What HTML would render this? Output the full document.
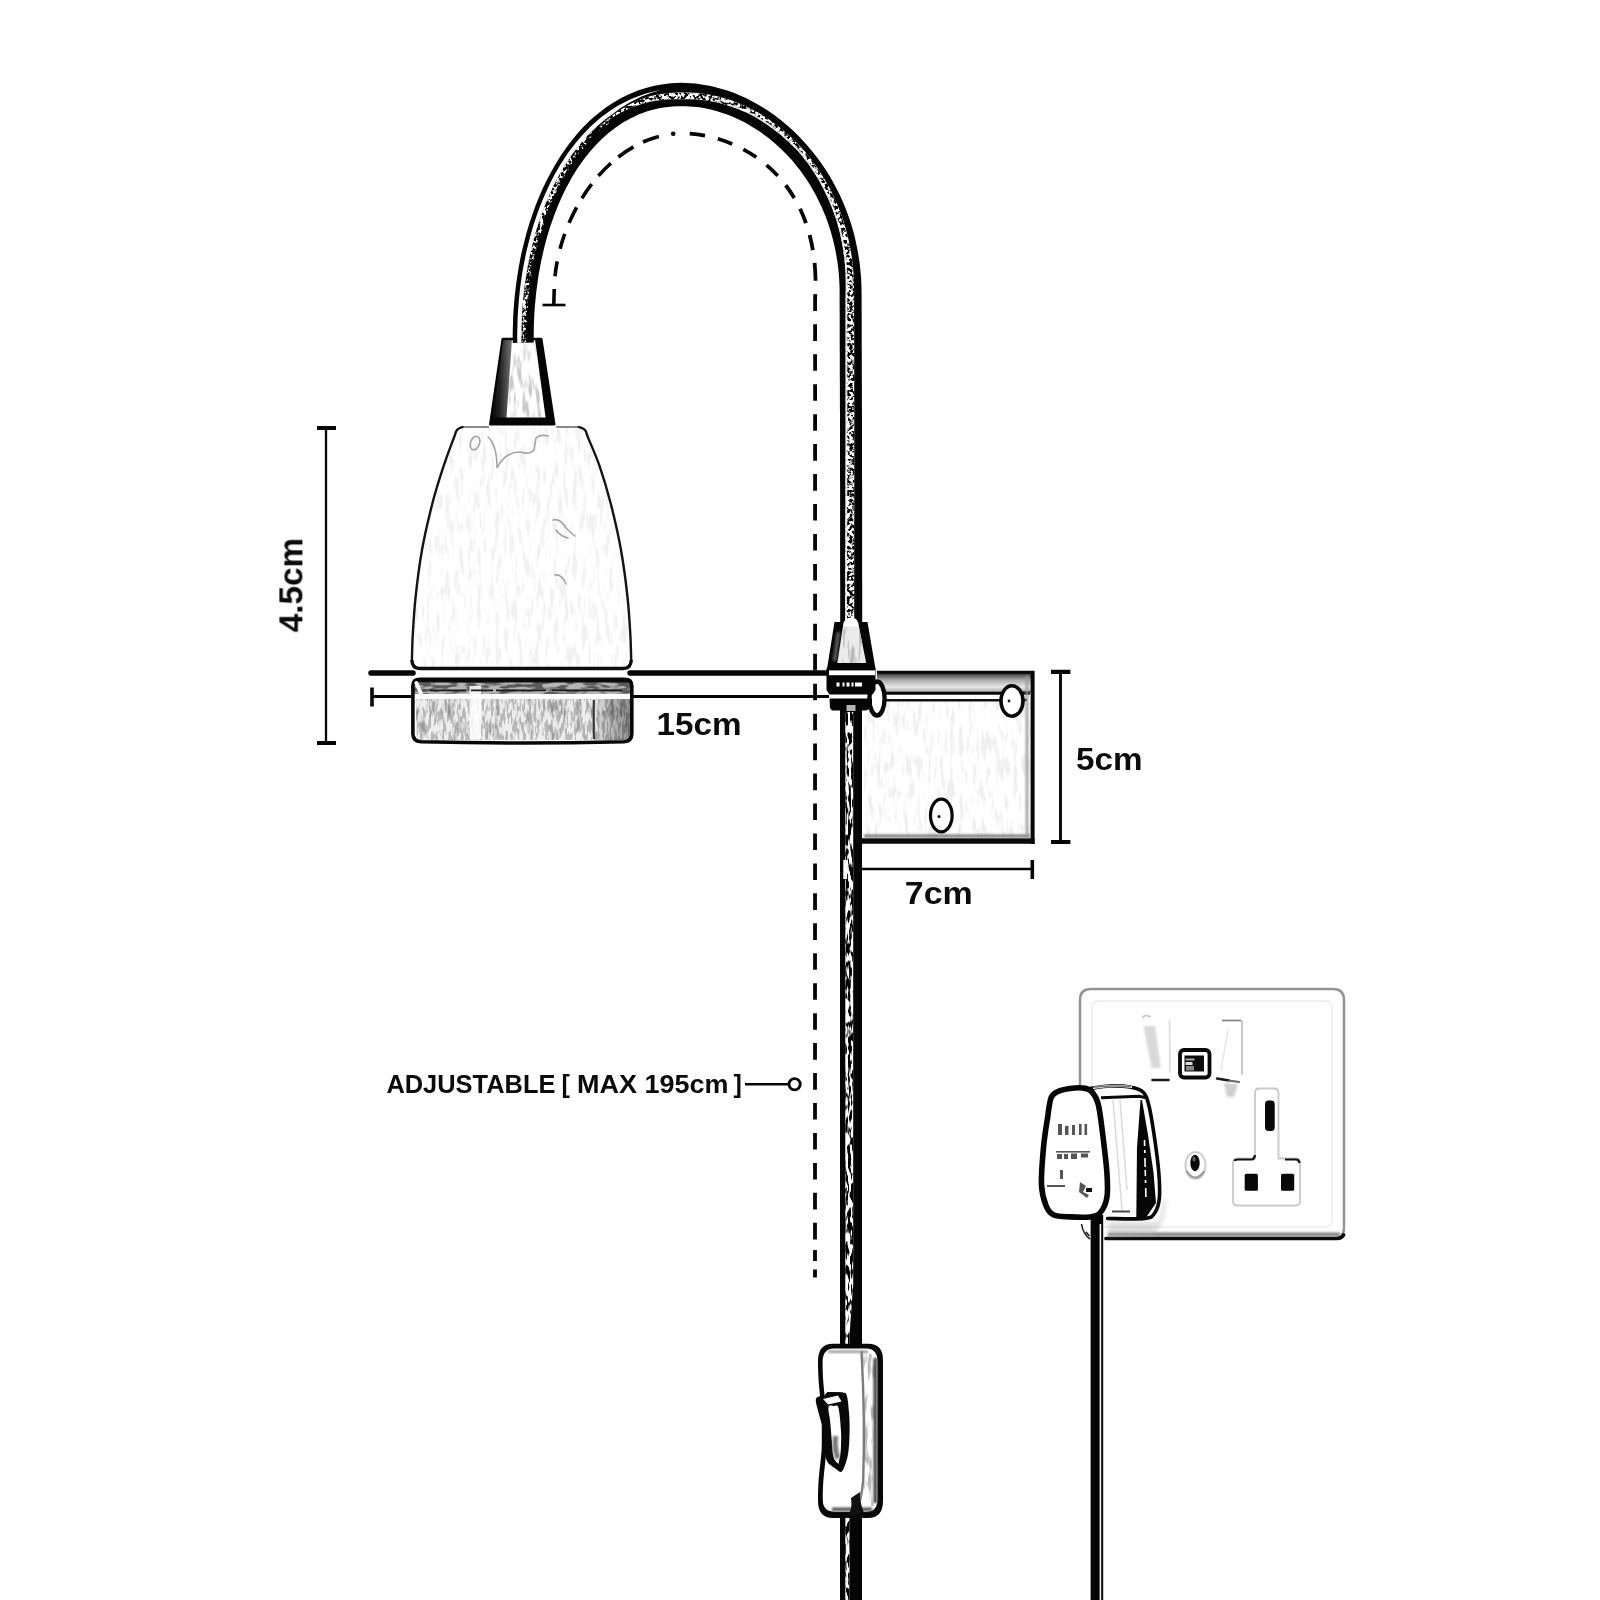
<!DOCTYPE html>
<html>
<head>
<meta charset="utf-8">
<title>Lamp dimensions</title>
<style>
html,body{margin:0;padding:0;background:#fff;}
body{width:1600px;height:1600px;overflow:hidden;font-family:"Liberation Sans",sans-serif;}
svg{display:block;}
text{font-family:"Liberation Sans",sans-serif;font-weight:bold;fill:#0a0a0a;}
</style>
</head>
<body>
<svg width="1600" height="1600" viewBox="0 0 1600 1600">
<defs>
  <filter id="speck" x="0" y="0" width="100%" height="100%">
    <feTurbulence type="fractalNoise" baseFrequency="0.32" numOctaves="2" seed="7" result="n"/>
    <feColorMatrix in="n" type="matrix" values="0 0 0 0 0  0 0 0 0 0  0 0 0 0 0  7 0 0 0 -3.1" result="a"/>
    <feComposite in="a" in2="SourceGraphic" operator="in"/>
  </filter>
  <filter id="speckLight" x="0" y="0" width="100%" height="100%">
    <feTurbulence type="fractalNoise" baseFrequency="0.3" numOctaves="2" seed="5" result="n"/>
    <feColorMatrix in="n" type="matrix" values="0 0 0 0 1  0 0 0 0 1  0 0 0 0 1  7 0 0 0 -4.2" result="a"/>
    <feComposite in="a" in2="SourceGraphic" operator="in"/>
  </filter>
  <filter id="speckMid" x="0" y="0" width="100%" height="100%">
    <feTurbulence type="fractalNoise" baseFrequency="0.3" numOctaves="2" seed="9" result="n"/>
    <feColorMatrix in="n" type="matrix" values="0 0 0 0 1  0 0 0 0 1  0 0 0 0 1  7 0 0 0 -3.35" result="a"/>
    <feComposite in="a" in2="SourceGraphic" operator="in"/>
  </filter>
  <filter id="speckV" x="0" y="0" width="100%" height="100%">
    <feTurbulence type="fractalNoise" baseFrequency="0.35 0.09" numOctaves="2" seed="3" result="n"/>
    <feColorMatrix in="n" type="matrix" values="0 0 0 0 0  0 0 0 0 0  0 0 0 0 0  8 0 0 0 -3.65" result="a"/>
    <feComposite in="a" in2="SourceGraphic" operator="in"/>
  </filter>
  <filter id="faint" x="0" y="0" width="100%" height="100%">
    <feTurbulence type="fractalNoise" baseFrequency="0.12 0.05" numOctaves="3" seed="11" result="n"/>
    <feColorMatrix in="n" type="matrix" values="0 0 0 0 0.5  0 0 0 0 0.5  0 0 0 0 0.5  4 0 0 0 -2.1" result="a"/>
    <feComposite in="a" in2="SourceGraphic" operator="in"/>
  </filter>
  <filter id="faintV" x="0" y="0" width="100%" height="100%">
    <feTurbulence type="fractalNoise" baseFrequency="0.22 0.045" numOctaves="2" seed="21" result="n"/>
    <feColorMatrix in="n" type="matrix" values="0 0 0 0 0.45  0 0 0 0 0.45  0 0 0 0 0.45  5 0 0 0 -2.45" result="a"/>
    <feComposite in="a" in2="SourceGraphic" operator="in"/>
  </filter>
  <filter id="faintH" x="0" y="0" width="100%" height="100%">
    <feTurbulence type="fractalNoise" baseFrequency="0.06 0.25" numOctaves="2" seed="4" result="n"/>
    <feColorMatrix in="n" type="matrix" values="0 0 0 0 0.1  0 0 0 0 0.1  0 0 0 0 0.1  6 0 0 0 -2.6" result="a"/>
    <feComposite in="a" in2="SourceGraphic" operator="in"/>
  </filter>
  <filter id="blur05" filterUnits="userSpaceOnUse" x="0" y="0" width="1600" height="1600"><feGaussianBlur stdDeviation="0.6"/></filter>
  <filter id="blur1" filterUnits="userSpaceOnUse" x="0" y="0" width="1600" height="1600"><feGaussianBlur stdDeviation="1"/></filter>
  <filter id="blur2" filterUnits="userSpaceOnUse" x="0" y="0" width="1600" height="1600"><feGaussianBlur stdDeviation="2"/></filter>
  <linearGradient id="coneL" x1="0" x2="1" y1="0" y2="0">
    <stop offset="0" stop-color="#000"/><stop offset="0.45" stop-color="#222"/><stop offset="1" stop-color="#777"/>
  </linearGradient>
  <linearGradient id="ringR" x1="0" x2="1" y1="0" y2="0"><stop offset="0" stop-color="#000" stop-opacity="0"/><stop offset="1" stop-color="#000" stop-opacity="0.4"/></linearGradient>
  <linearGradient id="lip" x1="0" x2="0" y1="0" y2="1">
    <stop offset="0" stop-color="#333"/><stop offset="0.35" stop-color="#aaa"/><stop offset="0.7" stop-color="#e8e8e8"/><stop offset="1" stop-color="#999"/>
  </linearGradient>
</defs>
<rect width="1600" height="1600" fill="#fff"/>

<!-- ====== SOCKET PLATE ====== -->
<g id="socket">
  <rect x="1080" y="989" width="264" height="249.5" rx="11" fill="#fff"/>
  <rect x="1108.00" y="1232.50" width="232.00" height="3.80" fill="#808080" filter="url(#blur1)"/>
  <path d="M1091,989 L1333,989 Q1344,989 1344,1000 L1344,1228 Q1344,1238.5 1333,1238.5 M1080,1085 L1080,1000 Q1080,989 1091,989" stroke="#929292" stroke-width="2.4" fill="none" filter="url(#blur05)"/>
  <rect x="1092" y="1001" width="240" height="226" rx="6" fill="none" stroke="#ececec" stroke-width="1.4"/>
  <path d="M1106,1238.5 L1337,1238.5 Q1342,1238.2 1343.5,1235" stroke="#0a0a0a" stroke-width="3.7" fill="none" stroke-linecap="round"/>
  <!-- shadow under plug -->
  <path d="M1108,1222 L1158,1222 Q1162,1212 1163,1200 L1166,1200 Q1166,1222 1154,1234 L1108,1236Z" fill="#bbb" filter="url(#blur2)" opacity="0.5"/>
  <!-- rockers -->
  <g fill="none" stroke-linecap="round">
    <path d="M1143.5,1026 L1155,1026 L1161,1068 L1151.5,1068Z" fill="#d9d9d9" stroke="none" filter="url(#blur1)"/>
    <path d="M1143,1017 Q1146,1014 1150,1017" stroke="#ccc" stroke-width="2" filter="url(#blur05)"/>
    <path d="M1169.5,1020 L1170,1072" stroke="#dcdcdc" stroke-width="1.6"/>
    <path d="M1152.5,1080 L1168.5,1080" stroke="#1a1a1a" stroke-width="2.6"/>
    <rect x="1222.00" y="1019.60" width="19.00" height="1.80" fill="#8a8a8a" filter="url(#blur05)"/>
    <path d="M1242,1021 L1242,1074" stroke="#c4c4c4" stroke-width="1.8"/>
    <path d="M1228,1030 L1221,1070" stroke="#e6e6e6" stroke-width="1.5"/>
    <path d="M1217,1078.5 L1229,1080.5" stroke="#1a1a1a" stroke-width="2.4"/>
    <path d="M1229,1080.5 L1239,1082" stroke="#666" stroke-width="2"/>
    <path d="M1224,1083 L1238,1084 L1234,1097 L1227,1097Z" fill="#cfcfcf" stroke="none" filter="url(#blur1)"/>
  </g>
  <!-- indicator -->
  <rect x="1180" y="1050" width="29.5" height="27.5" rx="4" fill="#fff" stroke="#080808" stroke-width="3.8"/>
  <rect x="1184.5" y="1055.5" width="19.5" height="16" fill="#0c0c0c"/>
  <rect x="1185.5" y="1058.5" width="9" height="2" fill="#aaa"/>
  <rect x="1185.5" y="1062" width="7" height="3" fill="#ddd"/>
  <rect x="1186" y="1066" width="8" height="4.5" fill="#888"/>
  <!-- earth/T outline -->
  <path d="M1255,1158.5 L1255,1093 Q1255,1088.5 1259.5,1088.5 L1274,1088.5 Q1278.5,1088.5 1278.5,1093 L1278.5,1158.5 L1296,1158.5 Q1300,1158.5 1300,1162.5 L1300,1201 Q1300,1205.5 1296,1205.5 L1237,1205.5 Q1233,1205.5 1233,1201 L1233,1163 Q1233,1158.5 1237,1158.5Z" fill="#fff" stroke="#c9c9c9" stroke-width="1.8"/>
  <path d="M1234.5,1161 Q1235,1159.5 1238,1159.5 L1252,1159.5 Q1254.5,1159 1255,1155" stroke="#111" stroke-width="2.2" fill="none"/>
  <path d="M1285,1159.5 L1296,1159.5 Q1299,1159.5 1299.5,1163" stroke="#111" stroke-width="2.2" fill="none"/>
  <rect x="1265" y="1100.5" width="9.7" height="30.5" rx="3.5" fill="#080808"/>
  <rect x="1244.7" y="1173.7" width="13.2" height="17" rx="1.5" fill="#080808"/>
  <rect x="1281" y="1173.7" width="13.2" height="17" rx="1.5" fill="#080808"/>
  <!-- screw -->
  <ellipse cx="1195.5" cy="1165.5" rx="10" ry="13.5" fill="#fff" stroke="#cfcfcf" stroke-width="2"/>
  <path d="M1186.5,1171 Q1195,1184 1204.5,1171" stroke="#9a9a9a" stroke-width="2.2" fill="none"/>
  <ellipse cx="1195" cy="1163" rx="4.7" ry="8.2" fill="#0a0a0a"/>
  <ellipse cx="1194" cy="1159" rx="1.5" ry="2.5" fill="#666"/>
</g>

<!-- ====== PLUG CABLE ====== -->
<g id="plugcable">
  <rect x="1090.6" y="1215" width="12.6" height="385" fill="#060606"/>
  <rect x="1099.6" y="1224" width="1.6" height="376" fill="#f4f4f4"/>
  <path d="M1081.5,1224 Q1083,1234 1090,1239 M1086,1232 L1089.5,1236" stroke="#222" stroke-width="1.6" fill="none"/>
</g>

<!-- ====== PLUG ====== -->
<g id="plug">
  <!-- side face -->
  <path d="M1090.0,1088.5 C1093.3,1088.1 1103.3,1086.2 1110.0,1086.0 C1116.7,1085.8 1124.5,1086.0 1130.0,1087.0 C1135.5,1088.0 1139.8,1088.8 1143.0,1092.0 C1146.2,1095.2 1147.0,1097.8 1149.0,1106.0 C1151.0,1114.2 1153.4,1129.9 1155.0,1141.0 C1156.6,1152.1 1158.0,1163.1 1158.8,1172.5 C1159.5,1181.9 1160.0,1190.8 1159.4,1197.5 C1158.8,1204.2 1157.4,1209.0 1155.0,1212.5 C1152.6,1216.0 1152.9,1217.5 1145.0,1218.5 C1137.1,1219.5 1113.8,1218.5 1107.5,1218.5 L1100,1150 Z" fill="#fff"/>
  <path d="M1140.5,1100 L1142,1100 L1148,1135 L1153.5,1172.5 L1156,1203 L1146,1217.5 L1136.3,1217.5 L1137,1147.5Z" fill="#060606"/>
  <path d="M1144.5,1140 L1146,1200" stroke="#fff" stroke-width="1.6" stroke-dasharray="6 4 3 5 9 3" fill="none"/>
  <path d="M1113,1100 L1122,1210 M1120,1100 L1127,1190" stroke="#dadada" stroke-width="1.5" fill="none"/>
  <path d="M1112,1211.5 L1130,1211.5" stroke="#444" stroke-width="2"/>
  <path d="M1090.0,1088.5 C1093.3,1088.1 1103.3,1086.2 1110.0,1086.0 C1116.7,1085.8 1124.5,1086.0 1130.0,1087.0 C1135.5,1088.0 1139.8,1088.8 1143.0,1092.0 C1146.2,1095.2 1147.0,1097.8 1149.0,1106.0 C1151.0,1114.2 1153.4,1129.9 1155.0,1141.0 C1156.6,1152.1 1158.0,1163.1 1158.8,1172.5 C1159.5,1181.9 1160.0,1190.8 1159.4,1197.5 C1158.8,1204.2 1157.4,1209.0 1155.0,1212.5 C1152.6,1216.0 1152.9,1217.5 1145.0,1218.5 C1137.1,1219.5 1113.8,1218.5 1107.5,1218.5" fill="none" stroke="#080808" stroke-width="3.6" stroke-linecap="round"/>
  <path d="M1093,1088 Q1112,1084.5 1132,1087" stroke="#fff" stroke-width="2.2" fill="none"/>
  <path d="M1093,1087.3 Q1112,1085 1131,1086.6" stroke="#777" stroke-width="1.5" fill="none"/>
  <path d="M1101,1097.8 L1139,1096.2 L1147.5,1098" stroke="#080808" stroke-width="3" fill="none"/>
  <!-- front face -->
  <path d="M1051.2,1097.5 C1053.0,1093.4 1054.9,1093.0 1058.0,1091.5 C1061.1,1090.0 1065.9,1089.1 1070.0,1088.5 C1074.1,1087.9 1079.0,1087.5 1082.5,1088.0 C1086.0,1088.5 1088.7,1088.6 1091.2,1091.2 C1093.8,1093.9 1096.2,1096.5 1098.1,1103.8 C1100.0,1111.0 1101.3,1123.5 1102.8,1135.0 C1104.2,1146.5 1106.2,1162.1 1106.9,1172.5 C1107.6,1182.9 1108.1,1190.8 1106.9,1197.5 C1105.8,1204.2 1102.8,1209.8 1100.0,1213.0 C1097.2,1216.2 1095.0,1216.2 1090.0,1216.9 C1085.0,1217.6 1076.0,1217.2 1070.0,1216.9 C1064.0,1216.6 1057.7,1216.8 1053.8,1215.0 C1049.8,1213.2 1048.3,1211.2 1046.2,1206.2 C1044.2,1201.2 1042.0,1194.8 1041.5,1185.0 C1041.0,1175.2 1042.5,1159.0 1043.5,1147.5 C1044.5,1136.0 1046.5,1124.6 1047.8,1116.2 C1049.0,1107.9 1049.5,1101.6 1051.2,1097.5Z" fill="#fff" stroke="#060606" stroke-width="5.6"/>
  <g fill="#555">
    <rect x="1058" y="1124" width="4" height="11"/><rect x="1065" y="1126" width="3.5" height="9"/><rect x="1072" y="1125" width="3" height="10"/><rect x="1079" y="1124" width="2.6" height="11"/><rect x="1084.5" y="1124" width="2.6" height="11"/>
    <rect x="1056" y="1151" width="34" height="1.6"/><rect x="1057" y="1154" width="5" height="5"/><rect x="1064" y="1154" width="4" height="5"/><rect x="1071" y="1153.5" width="6" height="5.5"/><rect x="1081" y="1153.5" width="7" height="4"/>
    <rect x="1047" y="1185" width="18" height="2"/><rect x="1060" y="1170" width="3" height="9"/>
    <path d="M1080,1182 l6,4 l-3,6 l6,3 l-2,3 l-8,-6z"/><rect x="1086" y="1188" width="6" height="4" fill="#111"/>
  </g>
</g>


<!-- ====== ARM LINE + 15cm DIM ====== -->
<g stroke="#060606" fill="none">
  <path d="M371,673 L413,673 M630,673 L828,673" stroke-width="5.5" stroke-linecap="round"/>
  <path d="M372,696.5 L412,696.5 M633,696.5 L829,696.5" stroke-width="3"/>
  <path d="M372,687.5 L372,706.5" stroke-width="3.6"/>
</g>

<!-- ====== SHADE ====== -->
<g id="shade">
  <path d="M462.5,427.0 C461.6,427.5 458.4,428.2 457.0,430.0 C455.6,431.8 456.2,431.6 454.0,437.5 C451.8,443.4 447.3,454.7 443.8,465.6 C440.2,476.5 436.1,488.9 432.5,503.0 C428.9,517.1 424.8,534.3 422.0,550.0 C419.2,565.7 417.1,583.0 415.6,597.0 C414.1,611.0 413.4,623.4 412.8,634.0 C412.2,644.6 412.0,656.2 411.9,660.6 L414,668 L629,668 L631.2,660.6 C631.1,656.2 630.9,644.6 630.3,634.0 C629.7,623.4 629.0,611.0 627.5,597.0 C626.0,583.0 623.8,565.7 621.0,550.0 C618.2,534.3 614.2,517.1 610.6,503.0 C607.0,488.9 603.2,476.5 599.4,465.6 C595.6,454.7 590.4,443.4 588.0,437.5 C585.6,431.6 586.5,431.8 585.0,430.0 C583.5,428.2 579.8,427.5 578.8,427.0Z" fill="#fff"/>
  <path d="M462.5,427.0 C461.6,427.5 458.4,428.2 457.0,430.0 C455.6,431.8 456.2,431.6 454.0,437.5 C451.8,443.4 447.3,454.7 443.8,465.6 C440.2,476.5 436.1,488.9 432.5,503.0 C428.9,517.1 424.8,534.3 422.0,550.0 C419.2,565.7 417.1,583.0 415.6,597.0 C414.1,611.0 413.4,623.4 412.8,634.0 C412.2,644.6 412.0,656.2 411.9,660.6 L414,668 L629,668 L631.2,660.6 C631.1,656.2 630.9,644.6 630.3,634.0 C629.7,623.4 629.0,611.0 627.5,597.0 C626.0,583.0 623.8,565.7 621.0,550.0 C618.2,534.3 614.2,517.1 610.6,503.0 C607.0,488.9 603.2,476.5 599.4,465.6 C595.6,454.7 590.4,443.4 588.0,437.5 C585.6,431.6 586.5,431.8 585.0,430.0 C583.5,428.2 579.8,427.5 578.8,427.0Z" fill="#888" filter="url(#faintV)" opacity="0.17"/>
  <path d="M462.5,427 L489,427 M556,427 L578.75,427" stroke="#8a8a8a" stroke-width="2" fill="none"/>
  <path d="M462.5,427.0 C461.6,427.5 458.4,428.2 457.0,430.0 C455.6,431.8 456.2,431.6 454.0,437.5 C451.8,443.4 447.3,454.7 443.8,465.6 C440.2,476.5 436.1,488.9 432.5,503.0 C428.9,517.1 424.8,534.3 422.0,550.0 C419.2,565.7 417.1,583.0 415.6,597.0 C414.1,611.0 413.4,623.4 412.8,634.0 C412.2,644.6 412.0,656.2 411.9,660.6" stroke="#141414" stroke-width="2.4" fill="none" stroke-linecap="round"/>
  <path d="M578.8,427.0 C579.8,427.5 583.5,428.2 585.0,430.0 C586.5,431.8 585.6,431.6 588.0,437.5 C590.4,443.4 595.6,454.7 599.4,465.6 C603.2,476.5 607.0,488.9 610.6,503.0 C614.2,517.1 618.2,534.3 621.0,550.0 C623.8,565.7 626.0,583.0 627.5,597.0 C629.0,611.0 629.7,623.4 630.3,634.0 C630.9,644.6 631.1,656.2 631.2,660.6" stroke="#141414" stroke-width="2.4" fill="none" stroke-linecap="round"/>
  <path d="M411.9,660 Q412,668.5 420,668.5 L623,668.5 Q631,668.5 631.25,660" stroke="#0c0c0c" stroke-width="3.4" fill="none"/>
  <!-- inner faint marks -->
  <g stroke="#9a9a9a" stroke-width="1.6" fill="none" stroke-linecap="round" opacity="0.9">
    <ellipse cx="475" cy="443" rx="4.5" ry="7" transform="rotate(20 475 443)"/>
    <path d="M488,437 Q497,445 497,468 Q505,452 520,452 Q530,455 534,450 L536,438 Q540,434 548,436"/>
    <path d="M553,520 Q560,518 566,528 Q572,534 575,536 M556,530 Q560,536 568,538"/>
    <path d="M555,575 Q562,574 566,584"/>
  </g>
</g>

<!-- ====== RING under shade ====== -->
<g id="ring">
  <rect x="411.5" y="678" width="221.5" height="66.5" rx="7" fill="#fff"/>
  <rect x="414" y="681" width="216" height="13" fill="#b4b4b4"/>
  <rect x="414" y="681" width="216" height="13" fill="#000" filter="url(#faintH)"/>
  <rect x="416" y="699" width="214" height="41" fill="#ededed"/>
  <rect x="416" y="699" width="214" height="41" fill="#6a6a6a" filter="url(#faint)"/>
  <rect x="416" y="699" width="214" height="41" fill="#000" filter="url(#speckV)" opacity="0.22"/>
  <rect x="590" y="699" width="40" height="41" fill="url(#ringR)"/>
  <rect x="592.8" y="700" width="2" height="39" fill="#333"/>
  <rect x="469.5" y="686" width="11.5" height="53" fill="#fff" opacity="0.85"/>
  <path d="M414,696.3 L631,696.3" stroke="#fff" stroke-width="4.4"/>
  <path d="M416,681.3 L629,681.3" stroke="#111" stroke-width="2.5"/>
  <path d="M430,690.3 L628,690.3" stroke="#1c1c1c" stroke-width="1.8" stroke-dasharray="36 5 22 3 50 6 70 8"/>
  <path d="M412.9,686 Q412.9,679.4 420,679.4 L624.5,679.4 Q631.8,679.4 631.8,686 L631.8,734 Q631.8,741 624,741.8 Q520,744.2 421,741.8 Q412.9,741 412.9,734Z" fill="none" stroke="#080808" stroke-width="3.6"/>
  <path d="M416.3,683 L421,693.5" stroke="#fff" stroke-width="3.8" stroke-linecap="round"/>
</g>

<!-- ====== UPPER CONE (lamp holder cap) ====== -->
<g id="cone1">
  <polygon points="502.5,339 541.5,339 554.5,424.5 490,424.5" fill="#fff"/>
  <polygon points="512,343 535,343 546,417 504,417" fill="#888" filter="url(#faintV)" opacity="0.7"/>
  <polygon points="502.5,339 512,339 506,424.5 490,424.5" fill="url(#coneL)"/>
  <polygon points="535,339 541.5,339 554.5,424.5 546.5,424.5" fill="#050505"/>
  <polygon points="491,417.5 553.5,417.5 554.5,425 490,425" fill="#050505"/>
  <path d="M502.5,339 L541.5,339" stroke="#050505" stroke-width="2.5"/>
  <polygon points="502.5,339 541.5,339 554.5,424.5 490,424.5" fill="none" stroke="#050505" stroke-width="2" stroke-linejoin="round"/>
</g>

<!-- ====== ARCH TUBE ====== -->
<g id="arch" stroke="none">
  <path d="M512.8,343.0 512.7,336.3 512.8,329.6 513.0,323.0 513.2,316.3 513.6,309.7 514.1,303.2 514.7,296.6 515.4,290.2 516.2,283.7 517.1,277.3 518.1,270.9 519.2,264.6 520.4,258.3 521.7,252.1 523.2,246.0 524.7,239.9 526.3,233.8 528.0,227.9 529.8,222.0 531.8,216.2 533.8,210.4 535.9,204.8 538.1,199.2 540.4,193.7 542.8,188.3 545.4,183.0 548.0,177.8 550.7,172.7 553.5,167.7 556.4,162.8 559.3,158.0 562.4,153.3 565.6,148.7 568.8,144.2 572.2,139.9 575.6,135.7 579.2,131.6 582.8,127.6 586.6,123.8 590.4,120.1 594.4,116.5 598.5,113.2 602.6,109.9 606.9,106.8 611.2,103.9 615.7,101.2 620.2,98.6 624.8,96.2 629.6,94.0 634.4,91.9 639.3,90.1 644.3,88.5 649.4,87.0 654.6,85.8 659.9,84.8 665.2,83.9 670.6,83.3 676.1,83.0 681.7,82.8 686.3,82.9 690.9,83.2 695.5,83.6 700.1,84.2 704.7,84.9 709.2,85.7 713.8,86.7 718.3,87.9 722.8,89.2 727.2,90.6 731.7,92.1 736.1,93.8 740.5,95.7 744.8,97.6 749.1,99.7 753.3,101.9 757.5,104.2 761.7,106.7 765.8,109.3 769.9,112.0 773.9,114.8 777.8,117.7 781.7,120.8 785.5,123.9 789.3,127.2 793.0,130.6 796.6,134.1 800.2,137.7 803.7,141.4 807.1,145.2 810.4,149.2 813.7,153.2 816.9,157.3 820.0,161.5 823.0,165.8 825.9,170.1 828.7,174.6 831.5,179.2 834.1,183.9 836.6,188.7 839.1,193.6 841.4,198.5 843.6,203.6 845.7,208.7 847.7,213.9 849.5,219.2 851.3,224.6 852.9,230.1 854.4,235.6 855.7,241.2 856.9,246.9 858.0,252.7 859.0,258.5 859.8,264.5 860.4,270.4 861.0,276.5 861.3,282.6 861.5,288.8 861.6,295.1 861.6,305.0 861.7,314.9 861.7,324.9 861.7,334.9 861.7,344.8 861.8,354.8 861.8,364.8 861.8,374.8 861.9,384.7 861.9,394.7 861.9,404.7 862.0,414.6 862.0,424.6 862.0,434.6 862.0,444.5 862.0,454.5 862.0,464.5 862.0,474.5 862.1,484.4 862.1,494.4 862.1,504.4 862.1,514.3 862.1,524.3 862.1,534.3 862.1,544.2 862.1,554.2 862.1,564.2 862.1,574.2 862.2,584.1 862.2,594.1 862.2,604.1 862.2,614.0 862.2,624.0 L840.2,624.0 840.2,614.0 840.2,604.1 840.2,594.1 840.2,584.1 840.1,574.2 840.1,564.2 840.1,554.2 840.1,544.2 840.1,534.3 840.1,524.3 840.1,514.3 840.1,504.4 840.1,494.4 840.1,484.4 840.0,474.5 840.0,464.5 840.0,454.5 840.0,444.5 840.0,434.6 840.0,424.6 840.0,414.6 839.9,404.7 839.9,394.7 839.9,384.7 839.8,374.8 839.8,364.8 839.8,354.8 839.7,344.8 839.7,334.9 839.7,324.9 839.7,314.9 839.6,305.0 839.6,294.9 839.6,289.2 839.4,283.6 839.1,278.0 838.7,272.5 838.1,267.1 837.4,261.7 836.5,256.4 835.6,251.2 834.5,246.0 833.3,240.9 832.0,235.9 830.6,230.9 829.0,226.1 827.4,221.3 825.6,216.5 823.7,211.9 821.8,207.3 819.7,202.9 817.5,198.5 815.3,194.1 812.9,189.9 810.5,185.8 808.0,181.7 805.4,177.7 802.7,173.9 799.9,170.1 797.0,166.4 794.1,162.8 791.1,159.3 788.0,155.9 784.8,152.7 781.6,149.5 778.3,146.4 775.0,143.4 771.6,140.6 768.2,137.8 764.7,135.2 761.2,132.6 757.6,130.2 754.0,127.9 750.3,125.7 746.7,123.6 743.0,121.6 739.2,119.7 735.5,118.0 731.7,116.3 727.9,114.8 724.0,113.4 720.2,112.2 716.4,111.0 712.5,110.0 708.7,109.1 704.8,108.3 700.9,107.6 697.1,107.1 693.2,106.7 689.4,106.4 685.5,106.2 681.7,106.2 677.1,106.2 672.5,106.5 668.0,106.9 663.6,107.5 659.3,108.3 655.0,109.2 650.8,110.3 646.6,111.6 642.6,113.0 638.5,114.6 634.6,116.4 630.7,118.3 626.8,120.4 623.0,122.6 619.3,125.0 615.7,127.6 612.1,130.3 608.5,133.1 605.1,136.1 601.6,139.3 598.3,142.5 595.0,146.0 591.8,149.5 588.7,153.2 585.6,157.1 582.7,161.0 579.8,165.1 576.9,169.3 574.2,173.6 571.5,178.1 569.0,182.7 566.5,187.3 564.1,192.1 561.8,197.0 559.6,202.0 557.4,207.1 555.4,212.3 553.4,217.5 551.5,222.9 549.7,228.3 548.0,233.8 546.4,239.4 544.9,245.1 543.5,250.8 542.2,256.6 540.9,262.5 539.8,268.4 538.7,274.3 537.8,280.4 537.0,286.4 536.2,292.5 535.6,298.7 535.0,304.9 534.5,311.1 534.2,317.4 533.9,323.6 533.8,330.0 533.7,336.3 533.8,342.6Z" fill="#050505"/>
  <path d="M517.3,342.9 517.2,336.3 517.3,329.7 517.5,323.1 517.7,316.6 518.1,310.0 518.6,303.5 519.2,297.1 519.8,290.7 520.6,284.3 521.5,277.9 522.5,271.6 523.6,265.4 524.8,259.2 526.1,253.1 527.5,247.0 529.0,241.0 530.6,235.0 532.3,229.1 534.1,223.3 536.0,217.6 537.9,211.9 540.0,206.4 542.2,200.9 544.5,195.5 546.9,190.2 549.3,185.0 551.9,179.8 554.5,174.8 557.3,169.9 560.1,165.1 563.1,160.4 566.1,155.8 569.2,151.3 572.5,147.0 575.8,142.8 579.2,138.7 582.7,134.7 586.3,130.9 589.9,127.2 593.7,123.7 597.6,120.3 601.5,117.0 605.6,113.9 609.7,111.0 613.9,108.2 618.2,105.6 622.6,103.2 627.1,100.9 631.7,98.8 636.3,96.9 641.0,95.2 645.9,93.6 650.8,92.3 655.7,91.1 660.8,90.2 L660.8,90.2 655.8,91.5 650.9,93.0 646.2,94.7 641.5,96.6 637.0,98.7 632.6,100.9 628.3,103.3 624.0,105.9 619.9,108.6 616.0,111.4 612.1,114.4 608.1,117.3 604.1,120.3 600.3,123.5 596.5,126.8 592.9,130.2 589.3,133.8 585.8,137.6 582.4,141.4 579.0,145.4 575.8,149.5 572.7,153.8 569.6,158.2 566.6,162.7 563.7,167.3 560.9,172.0 558.2,176.8 555.6,181.8 553.1,186.8 550.7,191.9 548.3,197.2 546.1,202.5 544.0,207.9 541.9,213.4 539.9,219.0 538.1,224.6 536.3,230.3 534.6,236.2 533.1,242.0 531.6,248.0 530.2,254.0 528.9,260.0 527.7,266.2 526.7,272.3 525.7,278.6 524.8,284.8 524.0,291.1 523.3,297.5 522.8,303.9 522.3,310.3 521.9,316.8 521.7,323.2 521.5,329.8 521.4,336.3 521.5,342.8Z" fill="#fff"/>
  <path d="M521.7,342.8 521.6,336.3 521.7,329.8 521.9,323.3 522.1,316.8 522.5,310.3 523.0,303.9 523.5,297.5 524.2,291.2 525.0,284.9 525.9,278.6 526.8,272.4 527.9,266.2 529.1,260.1 530.4,254.0 531.8,248.0 533.2,242.1 534.8,236.2 536.5,230.4 538.3,224.7 540.1,219.0 542.1,213.4 544.1,208.0 546.3,202.5 548.5,197.2 550.9,192.0 553.3,186.9 555.8,181.8 558.4,176.9 561.1,172.1 563.9,167.4 566.8,162.8 569.8,158.3 572.8,153.9 576.0,149.7 579.2,145.5 582.5,141.6 585.9,137.7 589.4,134.0 593.0,130.4 596.7,126.9 600.4,123.6 604.3,120.5 608.2,117.5 L611.2,121.5 607.4,124.4 603.7,127.4 600.0,130.6 596.5,134.0 593.0,137.4 589.6,141.1 586.3,144.8 583.1,148.7 579.9,152.7 576.9,156.8 573.9,161.1 571.0,165.5 568.2,170.0 565.4,174.6 562.8,179.3 560.2,184.1 557.8,189.1 555.4,194.1 553.1,199.2 550.9,204.4 548.8,209.8 546.8,215.2 544.9,220.6 543.0,226.2 541.3,231.8 539.6,237.5 538.1,243.3 536.6,249.2 535.3,255.1 534.0,261.1 532.8,267.1 531.8,273.2 530.8,279.3 529.9,285.5 529.2,291.7 528.5,298.0 527.9,304.3 527.5,310.6 527.1,317.0 526.9,323.4 526.7,329.8 526.6,336.3 526.7,342.7Z" fill="#fff" filter="url(#speckLight)"/>
  <path d="M521.4,342.8 521.3,336.3 521.4,329.8 521.6,323.2 521.8,316.8 522.2,310.3 522.7,303.9 523.2,297.5 523.9,291.1 524.7,284.8 525.6,278.5 526.6,272.3 527.6,266.1 528.8,260.0 530.1,254.0 531.5,247.9 533.0,242.0 534.5,236.1 536.2,230.3 538.0,224.6 539.8,218.9 541.8,213.3 543.9,207.8 546.0,202.4 548.2,197.1 550.6,191.9 553.0,186.7 555.5,181.7 558.1,176.8 560.9,171.9 563.6,167.2 566.5,162.6 569.5,158.1 572.6,153.7 575.7,149.5 579.0,145.4 582.3,141.4 585.7,137.5 589.2,133.8 592.8,130.2 596.5,126.7 600.2,123.4 L600.2,123.4 596.7,127.0 593.3,130.7 590.1,134.6 586.9,138.5 583.8,142.6 580.8,146.8 577.9,151.1 575.1,155.6 572.4,160.1 569.8,164.7 567.3,169.5 564.6,174.1 561.9,178.8 559.4,183.7 556.9,188.6 554.5,193.7 552.2,198.8 550.0,204.1 547.9,209.4 545.8,214.8 543.9,220.3 542.1,225.9 540.3,231.5 538.7,237.3 537.1,243.1 535.7,248.9 534.3,254.9 533.0,260.9 531.9,266.9 530.8,273.0 529.8,279.2 529.0,285.4 528.2,291.6 527.5,297.9 526.9,304.2 526.5,310.6 526.1,317.0 525.9,323.4 525.7,329.8 525.6,336.3 525.7,342.8Z" fill="#fff" filter="url(#speckMid)"/>
  <path d="M597.8,128.1 601.3,124.7 605.0,121.4 608.8,118.2 612.6,115.2 616.6,112.4 620.6,109.7 624.7,107.2 629.0,104.8 633.3,102.6 637.7,100.5 642.2,98.7 646.9,97.0 651.6,95.8 656.5,94.7 661.4,93.9 666.4,93.2 671.4,92.8 676.5,92.5 681.7,92.5 686.0,92.4 690.3,92.5 694.6,92.8 698.9,93.1 703.2,93.7 707.5,94.3 711.9,95.1 716.2,96.0 720.5,97.1 724.7,98.3 729.0,99.6 733.3,101.1 737.5,102.7 741.7,104.4 745.9,106.2 750.0,108.2 754.1,110.4 758.2,112.6 762.2,115.0 766.1,117.5 770.0,120.2 773.9,122.9 777.7,125.8 781.5,128.8 785.2,131.9 788.8,135.1 792.4,138.4 795.9,141.8 799.4,145.4 802.8,149.0 806.1,152.8 809.2,156.7 812.3,160.7 815.3,164.8 818.2,169.0 821.0,173.3 823.7,177.7 826.3,182.2 828.9,186.8 831.3,191.4 833.6,196.2 835.8,201.0 837.9,205.9 839.9,211.0 841.8,216.0 843.5,221.2 845.1,226.5 846.6,231.8 848.0,237.2 849.2,242.7 850.3,248.2 851.3,253.9 852.1,259.6 852.8,265.3 853.3,271.1 853.7,277.0 854.0,283.0 854.1,289.0 854.1,295.0 854.1,305.0 854.1,314.9 854.1,324.9 854.2,334.9 854.2,344.8 854.2,354.8 854.2,364.8 854.2,374.8 854.2,384.7 854.2,394.7 854.3,404.7 854.3,414.6 854.3,424.6 854.3,434.6 854.3,444.5 854.3,454.5 854.3,464.5 854.3,474.5 854.3,484.4 854.3,494.4 854.3,504.4 854.3,514.3 854.2,524.3 854.2,534.3 854.2,544.2 854.2,554.2 854.2,564.2 854.2,574.2 854.2,584.1 854.2,594.1 854.2,604.1 854.2,614.0 854.2,624.0 L845.2,624.0 845.2,614.0 845.2,604.1 845.3,594.1 845.3,584.1 845.3,574.2 845.3,564.2 845.3,554.2 845.4,544.2 845.4,534.3 845.4,524.3 845.4,514.3 845.4,504.4 845.5,494.4 845.5,484.4 845.5,474.5 845.5,464.5 845.5,454.5 845.6,444.5 845.6,434.6 845.6,424.6 845.6,414.6 845.6,404.7 845.6,394.7 845.6,384.7 845.6,374.8 845.6,364.8 845.6,354.8 845.6,344.8 845.6,334.9 845.6,324.9 845.6,314.9 845.6,305.0 845.6,295.0 845.8,289.1 845.8,283.3 845.7,277.6 845.5,271.9 845.1,266.2 844.6,260.7 843.9,255.1 843.2,249.7 842.3,244.3 841.2,238.9 840.1,233.6 838.8,228.4 837.4,223.3 835.8,218.2 834.0,213.2 832.2,208.3 830.2,203.5 828.2,198.8 826.0,194.1 823.8,189.5 821.4,185.0 818.9,180.6 816.4,176.3 813.7,172.0 811.0,167.9 808.2,163.8 805.2,159.9 802.3,156.0 799.0,152.3 795.7,148.8 792.3,145.4 788.8,142.1 785.3,138.9 781.8,135.8 778.1,132.8 774.5,129.9 770.7,127.2 766.9,124.5 763.1,122.0 759.3,119.6 755.4,117.3 751.4,115.1 747.4,113.1 743.4,111.3 739.3,109.6 735.2,108.0 731.1,106.5 727.0,105.2 722.9,104.0 718.7,103.0 714.6,102.1 710.4,101.3 706.3,100.6 702.2,100.1 698.0,99.7 693.9,99.5 689.8,99.3 685.8,99.3 681.7,99.5 676.8,99.3 671.9,99.3 667.1,99.5 662.4,99.9 657.7,100.5 653.0,101.3 648.4,102.3 643.9,103.4 639.4,104.8 634.9,106.4 630.6,108.1 626.3,110.0 622.0,112.1 617.8,114.3 613.7,116.8 609.6,119.4 605.6,122.1 601.6,125.0 597.8,128.1Z" fill="#fff"/>
  <path d="M597.8,128.1 601.3,124.7 605.0,121.4 608.8,118.2 612.6,115.2 616.6,112.4 620.6,109.7 624.7,107.2 629.0,104.8 633.3,102.6 637.7,100.5 642.2,98.7 646.9,97.0 651.6,95.8 656.5,94.7 661.4,93.9 666.4,93.2 671.4,92.8 676.5,92.5 681.7,92.5 686.0,92.4 690.3,92.5 694.6,92.8 698.9,93.1 703.2,93.7 707.5,94.3 711.9,95.1 716.2,96.0 720.5,97.1 724.7,98.3 729.0,99.6 733.3,101.1 737.5,102.7 741.7,104.4 745.9,106.2 750.0,108.2 754.1,110.4 758.2,112.6 762.2,115.0 766.1,117.5 770.0,120.2 773.9,122.9 777.7,125.8 781.5,128.8 785.2,131.9 788.8,135.1 792.4,138.4 795.9,141.8 799.4,145.4 802.8,149.0 806.1,152.8 809.2,156.7 812.3,160.7 815.3,164.8 818.2,169.0 821.0,173.3 823.7,177.7 826.3,182.2 828.9,186.8 831.3,191.4 833.6,196.2 835.8,201.0 837.9,205.9 839.9,211.0 841.8,216.0 843.5,221.2 845.1,226.5 846.6,231.8 848.0,237.2 849.2,242.7 850.3,248.2 851.3,253.9 852.1,259.6 852.8,265.3 853.3,271.1 853.7,277.0 854.0,283.0 854.1,289.0 854.1,295.0 854.1,305.0 854.1,314.9 854.1,324.9 854.2,334.9 854.2,344.8 854.2,354.8 854.2,364.8 854.2,374.8 854.2,384.7 854.2,394.7 854.3,404.7 854.3,414.6 854.3,424.6 854.3,434.6 854.3,444.5 854.3,454.5 854.3,464.5 854.3,474.5 854.3,484.4 854.3,494.4 854.3,504.4 854.3,514.3 854.2,524.3 854.2,534.3 854.2,544.2 854.2,554.2 854.2,564.2 854.2,574.2 854.2,584.1 854.2,594.1 854.2,604.1 854.2,614.0 854.2,624.0 L845.2,624.0 845.2,614.0 845.2,604.1 845.3,594.1 845.3,584.1 845.3,574.2 845.3,564.2 845.3,554.2 845.4,544.2 845.4,534.3 845.4,524.3 845.4,514.3 845.4,504.4 845.5,494.4 845.5,484.4 845.5,474.5 845.5,464.5 845.5,454.5 845.6,444.5 845.6,434.6 845.6,424.6 845.6,414.6 845.6,404.7 845.6,394.7 845.6,384.7 845.6,374.8 845.6,364.8 845.6,354.8 845.6,344.8 845.6,334.9 845.6,324.9 845.6,314.9 845.6,305.0 845.6,295.0 845.8,289.1 845.8,283.3 845.7,277.6 845.5,271.9 845.1,266.2 844.6,260.7 843.9,255.1 843.2,249.7 842.3,244.3 841.2,238.9 840.1,233.6 838.8,228.4 837.4,223.3 835.8,218.2 834.0,213.2 832.2,208.3 830.2,203.5 828.2,198.8 826.0,194.1 823.8,189.5 821.4,185.0 818.9,180.6 816.4,176.3 813.7,172.0 811.0,167.9 808.2,163.8 805.2,159.9 802.3,156.0 799.0,152.3 795.7,148.8 792.3,145.4 788.8,142.1 785.3,138.9 781.8,135.8 778.1,132.8 774.5,129.9 770.7,127.2 766.9,124.5 763.1,122.0 759.3,119.6 755.4,117.3 751.4,115.1 747.4,113.1 743.4,111.3 739.3,109.6 735.2,108.0 731.1,106.5 727.0,105.2 722.9,104.0 718.7,103.0 714.6,102.1 710.4,101.3 706.3,100.6 702.2,100.1 698.0,99.7 693.9,99.5 689.8,99.3 685.8,99.3 681.7,99.5 676.8,99.3 671.9,99.3 667.1,99.5 662.4,99.9 657.7,100.5 653.0,101.3 648.4,102.3 643.9,103.4 639.4,104.8 634.9,106.4 630.6,108.1 626.3,110.0 622.0,112.1 617.8,114.3 613.7,116.8 609.6,119.4 605.6,122.1 601.6,125.0 597.8,128.1Z" fill="#000" filter="url(#speck)"/>
  <path d="M727.6,103.5 731.8,104.9 735.9,106.3 740.1,107.9 744.2,109.6 748.3,111.5 752.3,113.6 756.3,115.8 760.2,118.1 764.1,120.5 768.0,123.1 771.8,125.7 775.6,128.5 779.3,131.4 783.0,134.4 786.6,137.6 790.1,140.8 793.6,144.1 797.0,147.6 800.4,151.1 803.6,154.8 806.7,158.7 809.6,162.7 812.4,166.8 815.2,171.0 817.9,175.3 820.5,179.7 822.9,184.1 825.3,188.7 827.6,193.3 829.8,198.0 831.9,202.8 833.8,207.6 835.7,212.6 837.4,217.6 839.1,222.7 840.5,227.9 841.8,233.1 843.0,238.5 844.0,243.9 844.9,249.3 845.7,254.8 846.4,260.4 846.9,266.0 847.3,271.7 847.5,277.4 847.6,283.2 847.6,289.1 847.4,295.0 847.4,305.0 847.4,314.9 847.4,324.9 847.4,334.9 847.4,344.8 847.4,354.8 847.4,364.8 847.4,374.8 847.4,384.7 847.4,394.7 847.4,404.7 847.4,414.6 847.4,424.6 847.4,434.6 847.4,444.5 847.3,454.5 847.3,464.5 847.3,474.5 847.3,484.4 847.3,494.4 847.2,504.4 847.2,514.3 847.2,524.3 847.2,534.3 847.2,544.2 847.1,554.2 847.1,564.2 847.1,574.2 847.1,584.1 847.1,594.1 847.0,604.1 847.0,614.0 847.0,624.0 L845.2,624.0 845.2,614.0 845.2,604.1 845.3,594.1 845.3,584.1 845.3,574.2 845.3,564.2 845.3,554.2 845.4,544.2 845.4,534.3 845.4,524.3 845.4,514.3 845.4,504.4 845.5,494.4 845.5,484.4 845.5,474.5 845.5,464.5 845.5,454.5 845.6,444.5 845.6,434.6 845.6,424.6 845.6,414.6 845.6,404.7 845.6,394.7 845.6,384.7 845.6,374.8 845.6,364.8 845.6,354.8 845.6,344.8 845.6,334.9 845.6,324.9 845.6,314.9 845.6,305.0 845.6,295.0 845.8,289.1 845.8,283.3 845.7,277.6 845.5,271.9 845.1,266.2 844.6,260.7 843.9,255.1 843.2,249.7 842.3,244.3 841.2,238.9 840.1,233.6 838.8,228.4 837.4,223.3 835.8,218.2 834.0,213.2 832.2,208.3 830.2,203.5 828.2,198.8 826.0,194.1 823.8,189.5 821.4,185.0 818.9,180.6 816.4,176.3 813.7,172.0 811.0,167.9 808.2,163.8 805.2,159.9 802.3,156.0 799.0,152.3 795.7,148.8 792.3,145.4 788.8,142.1 785.3,138.9 781.8,135.8 778.1,132.8 774.5,129.9 770.7,127.2 766.9,124.5 763.1,122.0 759.3,119.6 755.4,117.3 751.4,115.1 747.4,113.1 743.4,111.3 739.3,109.6 735.2,108.0 731.1,106.5 727.0,105.2Z" fill="#fff" opacity="0.85"/>
</g>

<!-- ====== DASHED GUIDE ====== -->
<g fill="none" stroke="#050505">
  <path d="M815,1239.4 L815.1,298.8 C822.8,174.3 734.8,133.3 682.8,133.3" stroke-width="3.8" stroke-dasharray="16.6 13.35 16.6 13.35 16.6 13.35 16.6 13.35 16.6 13.35 16.6 13.35 16.6 13.35 16.6 13.35 16.6 13.35 16.6 13.35 16.6 13.35 16.6 13.35 16.6 13.35 16.6 13.35 16.6 13.35 16.6 13.35 16.6 13.35 16.6 13.35 16.6 13.35 16.6 13.35 16.6 13.35 16.6 13.35 16.6 13.35 16.6 13.35 16.6 13.35 16.6 13.35 16.6 13.35 16.6 13.35 16.6 13.35 16.6 13.35 16.6 13.35 16.6 13.35 18 12.9 15.6 12.3 15.5 12.3 15.3 12.4 15.5 12.9 15.2 12.4 15.3 13.2 15.4 2000"/>
  <path d="M815,1250 L815,1261 M815,1269.5 L815,1277.5" stroke-width="3.8"/>
  <path d="M553.8,305 L554.2,289.8 C555.4,214.6 611.7,133.3 682.8,133.3" stroke-width="3.6" stroke-dasharray="16 12.8 15.1 12.8 15.7 11.8 17.3 10.5 17.1 10.7 17.7 9.8 18.2 10.7 16.8 2000"/>
  <circle cx="673.2" cy="133.7" r="2.3" fill="#050505" stroke="none"/>
  <path d="M542.5,305 L565.5,305" stroke-width="2.6"/>
</g>

<!-- ====== BRACKET PLATE ====== -->
<g id="bracket">
  <rect x="862" y="671" width="172.5" height="172" fill="#fff"/>
  <rect x="864" y="702" width="167" height="136" fill="#999" filter="url(#faintV)" opacity="0.2"/>
  <rect x="877" y="673" width="155" height="20" fill="url(#lip)"/>
  <path d="M877,672.2 L1034,672.2" stroke="#080808" stroke-width="3"/>
  <path d="M885,693.3 L1030,693.3" stroke="#080808" stroke-width="3"/>
  <path d="M886,700.2 L1001,700.2" stroke="#111" stroke-width="2.6"/><path d="M1023,692.8 L1030,692.8 M1022.5,700 L1027,700" stroke="#111" stroke-width="2.6"/>
  <path d="M1032.6,671 L1032.6,844" stroke="#080808" stroke-width="4"/>
  <path d="M861,841 L1034.5,841" stroke="#080808" stroke-width="5.5"/>
  <rect x="864.00" y="834.50" width="166.00" height="3.00" fill="#777" filter="url(#blur1)"/>
  <rect x="1025.75" y="676.00" width="2.50" height="162.00" fill="#999" filter="url(#blur1)"/>
  <!-- holes -->
  <ellipse cx="1012" cy="701" rx="11" ry="15.2" fill="#fff" stroke="#080808" stroke-width="3.6"/>
  <circle cx="1009" cy="701" r="1.4" fill="#111"/>
  <ellipse cx="941.3" cy="815.5" rx="10.8" ry="16.3" fill="#fff" stroke="#080808" stroke-width="3.2"/>
  <circle cx="939" cy="816.5" r="1.5" fill="#111"/>
  <ellipse cx="877" cy="698.5" rx="7.6" ry="17" fill="#fff" stroke="#080808" stroke-width="4.4"/>
</g>

<!-- ====== CABLE (below bracket) ====== -->
<g id="cable">
  <rect x="840" y="705" width="22" height="895" fill="#050505"/>
  <path id="cband" d="M845.3,712 L853.2,712 L853.2,1285 L849.5,1335 L849.5,1600 L845.3,1600Z" fill="#fff"/>
  <path d="M845.3,712 L853.2,712 L853.2,1285 L849.5,1335 L849.5,1600 L845.3,1600Z" fill="#000" filter="url(#speckV)"/>
  <!-- white left tick of 7cm dim -->
  <rect x="843.3" y="860" width="3.8" height="19" fill="#fff"/>
</g>

<!-- ====== CONNECTOR CONE + CLAMP ====== -->
<g id="cone2">
  <polygon points="834.5,622 867.5,622 875.5,669 827,669" fill="#050505"/>
  <polygon points="843,626 858.8,626 866.2,663 837.3,663" fill="#fff"/>
  <polygon points="843,626 858.8,626 866.2,663 837.3,663" fill="#000" opacity="0.08"/>
  <polygon points="843,626 858.8,626 866.2,663 837.3,663" fill="#666" filter="url(#faintV)" opacity="0.9"/>
  <path d="M843,626.5 Q843.5,617.5 851,617.5 Q858.3,617.5 858.8,626.5Z" fill="#fff"/>
  <path d="M838.5,632 L834.5,661" stroke="#555" stroke-width="4" filter="url(#blur1)"/>
  <!-- clamp -->
  <path d="M826.5,668 L875.5,668 L875.5,690 L872.5,694.5 L829.5,694.5 L826.5,690Z" fill="#050505"/>
  <rect x="829" y="670.4" width="46" height="4.8" fill="#fff"/>
  <path d="M829.5,698.6 L872,698.6 L872,708 L866,710.5 L832,710.5 L830,708Z" fill="#050505"/>
  <path d="M836.5,684.5 L866,684.5" stroke="#fff" stroke-width="4" stroke-dasharray="3 3 2 2 3 2 2 1.5 7 20"/>
  <rect x="846.5" y="705" width="9" height="6" fill="#fff" opacity="0.7"/>
</g>

<!-- ====== INLINE SWITCH ====== -->
<g id="switch">
  <path d="M833,1343.75 L868,1343.75 Q883,1343.75 883,1360 L883,1501 Q883,1518 868,1518 L833,1518 Q818,1518 818,1501 C818,1470 821.8,1462 821.8,1442 L821.8,1420 C821.8,1400 818,1390 818,1361 Q818,1343.75 833,1343.75Z" fill="#070707"/>
  <path id="swin" d="M834,1348.5 L866,1348.5 Q877.4,1348.5 877.4,1361 L877.4,1500 Q877.4,1511.8 866,1511.8 L835,1511.8 Q822.8,1511.8 822.8,1500 C822.8,1472 826.4,1463 826.4,1442 L826.4,1420 C826.4,1399 822.6,1390 822.6,1362 Q822.6,1348.5 834,1348.5Z" fill="#fff"/>
  <path d="M862,1351 L876,1356 L876,1505 L858,1510 Q863,1490 863.5,1470 C864.5,1430 864,1390 862,1351Z" fill="#666" filter="url(#faintV)" opacity="0.9"/>
  <path d="M861.5,1351 C864.2,1400 864.2,1450 863.2,1480 Q861.5,1500 856.5,1511" stroke="#7c7c7c" stroke-width="2.4" fill="none" filter="url(#blur05)"/>
  <rect x="873.50" y="1358.00" width="3.60" height="145.00" fill="#444" filter="url(#blur1)"/>
  <rect x="832.00" y="1507.5" width="40.00" height="3.50" fill="#555" filter="url(#blur1)"/>
  <rect x="828.00" y="1350.6" width="40.00" height="2.20" fill="#888" filter="url(#blur1)"/>
  <path d="M851,1498 Q853,1510 847,1516 L864,1513 Q859,1500 860,1492Z" fill="#111"/>
  <path d="M815.8,1400.0 C815.9,1397.3 817.6,1397.1 819.0,1396.5 C820.4,1395.9 822.5,1396.9 824.0,1396.2 C825.5,1395.5 824.9,1393.2 828.0,1392.6 C831.1,1392.0 839.4,1392.1 842.5,1392.6 C845.6,1393.1 845.7,1392.3 846.8,1395.6 C847.9,1398.9 848.5,1406.6 849.0,1412.5 C849.5,1418.4 849.7,1425.0 849.6,1431.2 C849.5,1437.5 849.2,1444.7 848.6,1450.0 C848.0,1455.3 847.0,1459.4 845.8,1463.0 C844.6,1466.6 843.1,1470.8 841.5,1471.8 C839.9,1472.8 838.4,1470.8 836.0,1469.0 C833.6,1467.2 828.9,1465.0 827.0,1461.0 C825.1,1457.0 825.2,1450.6 824.5,1445.0 C823.8,1439.4 823.5,1432.9 822.5,1427.5 C821.5,1422.1 819.6,1417.1 818.5,1412.5 C817.4,1407.9 815.7,1402.7 815.8,1400.0Z" fill="#080808"/>
  <path d="M828.5,1407.0 C829.1,1404.3 832.3,1405.8 834.0,1406.0 C835.7,1406.2 837.3,1403.8 838.5,1408.0 C839.7,1412.2 840.6,1424.0 841.0,1431.0 C841.4,1438.0 841.1,1445.0 840.8,1450.0 C840.5,1455.0 839.5,1458.8 839.0,1461.0 C838.5,1463.2 838.9,1464.2 838.0,1463.5 C837.1,1462.8 834.5,1460.8 833.5,1457.0 C832.5,1453.2 832.3,1446.4 831.8,1440.6 C831.2,1434.8 830.8,1427.5 830.2,1421.9 C829.7,1416.3 827.9,1409.7 828.5,1407.0Z" fill="#fff"/>
  <path d="M823,1399 L838,1395.5 L841.5,1401.5 L828,1404.5Z" fill="#fff"/>
  <path d="M827,1393.2 L843,1393.6" stroke="#080808" stroke-width="2.2"/>
  <path d="M833,1436 Q831.5,1452 836,1460 L840,1457 Q837,1448 838,1436Z" fill="#777" filter="url(#blur1)"/>
</g>


<!-- ====== DIMENSION LINES ====== -->
<g stroke="#060606" fill="none">
  <path d="M326,428 L326,743" stroke-width="2.3"/>
  <path d="M317,428 L336,428 M317,743 L336,743" stroke-width="4"/>
  <path d="M1060.5,672 L1060.5,842" stroke-width="2.9"/>
  <path d="M1051,671.8 L1070.4,671.8 M1051,842 L1070.4,842" stroke-width="4.2"/>
  <path d="M862,869 L1032.3,869" stroke-width="2.6"/>
  <path d="M1032.3,860 L1032.3,879" stroke-width="3.6"/>
  <path d="M745,1084.3 L789,1084.3" stroke-width="2.6"/>
  <circle cx="794.6" cy="1084.3" r="5.6" stroke-width="2.8" fill="#fff"/>
</g>

<!-- ====== TEXTS ====== -->
<g opacity="0.996">
<text x="656.6" y="735" font-size="31.4" textLength="85" lengthAdjust="spacingAndGlyphs">15cm</text>
<text x="1076" y="770" font-size="31.4" textLength="66.5" lengthAdjust="spacingAndGlyphs">5cm</text>
<text x="904.8" y="904" font-size="31.4" textLength="68" lengthAdjust="spacingAndGlyphs">7cm</text>
<text transform="translate(302.4,632.3) rotate(-90)" x="0" y="0" font-size="33" textLength="94.5" lengthAdjust="spacingAndGlyphs">4.5cm</text>
<text y="1092.7" font-size="25"><tspan x="386.4" textLength="169" lengthAdjust="spacingAndGlyphs">ADJUSTABLE</tspan><tspan x="561.5">[</tspan><tspan x="577" textLength="60" lengthAdjust="spacingAndGlyphs">MAX</tspan><tspan x="644.5" textLength="84" lengthAdjust="spacingAndGlyphs">195cm</tspan><tspan x="733.5">]</tspan></text>
</g>

</svg>
</body>
</html>
